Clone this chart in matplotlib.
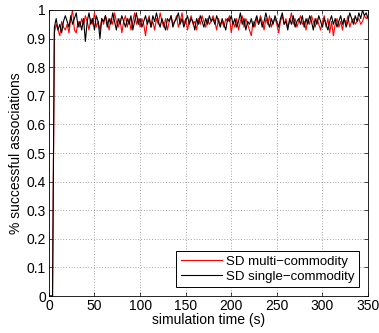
import numpy as np
import matplotlib
matplotlib.use('Agg')
import matplotlib.pyplot as plt

plt.rcParams['font.family'] = ['Liberation Sans', 'DejaVu Sans']

# sample time (s), one sample every 2 s
sim_time = np.arange(0, 351, 2)

multi_commodity = [
    0, 0, 0, 0.92, 0.95, 0.93, 0.91, 0.96, 0.94, 0.93,
    0.95, 0.92, 0.97, 1.00, 0.93, 0.92, 0.96, 0.94, 0.97, 0.95,
    0.98, 0.96, 0.93, 0.97, 0.95, 0.99, 0.94, 0.96, 0.93, 0.97,
    0.95, 0.98, 0.96, 0.93, 0.97, 0.95, 0.99, 0.96, 0.94, 0.97,
    0.92, 0.96, 0.98, 0.94, 0.97, 0.93, 0.96, 0.99, 0.95, 0.97,
    0.94, 0.97, 0.95, 0.91, 0.96, 0.98, 0.94, 0.96, 0.93, 0.97,
    0.95, 0.99, 0.96, 0.94, 0.97, 0.93, 0.96, 0.98, 0.95, 0.96,
    0.98, 0.94, 0.96, 0.99, 0.95, 0.97, 0.93, 0.96, 0.98, 0.95,
    0.96, 0.93, 0.97, 0.95, 0.98, 0.96, 0.94, 0.97, 0.95, 0.96,
    0.98, 0.96, 0.93, 0.97, 0.95, 0.96, 0.94, 0.97, 0.96, 0.98,
    0.92, 0.96, 0.94, 0.97, 0.93, 0.96, 0.98, 0.94, 0.97, 0.95,
    0.93, 0.91, 0.96, 0.94, 0.97, 0.95, 0.98, 0.96, 0.93, 0.97,
    0.95, 0.98, 0.94, 0.96, 0.97, 0.95, 0.92, 0.96, 0.98, 0.95,
    0.97, 0.94, 0.96, 0.99, 0.95, 0.97, 0.94, 0.96, 0.98, 0.95,
    0.96, 0.93, 0.97, 0.95, 0.98, 0.96, 0.94, 0.97, 0.95, 0.93,
    0.96, 0.98, 0.94, 0.97, 0.92, 0.96, 0.91, 0.95, 0.97, 0.94,
    0.96, 0.93, 0.97, 0.95, 0.98, 0.94, 0.96, 0.97, 0.95, 0.96,
    0.97, 0.95, 0.96, 0.98, 0.97, 0.98,
]

single_commodity = [
    0, 0, 0, 0.94, 0.97, 0.93, 0.95, 0.92, 0.96, 0.98,
    0.96, 0.94, 0.98, 0.95, 0.97, 0.99, 0.94, 0.96, 0.93, 0.97,
    0.89, 0.96, 0.99, 0.95, 0.97, 0.93, 0.98, 0.96, 0.90, 0.97,
    0.96, 0.98, 0.94, 0.97, 0.95, 0.99, 0.96, 0.93, 0.97, 0.95,
    0.98, 0.96, 0.94, 0.97, 0.95, 0.98, 0.93, 0.96, 0.99, 0.95,
    0.97, 0.94, 0.96, 0.98, 0.95, 0.97, 0.94, 0.98, 0.96, 0.99,
    0.96, 0.94, 0.97, 0.95, 0.93, 0.97, 0.96, 0.98, 0.94, 0.96,
    0.97, 0.99, 0.95, 0.97, 0.94, 0.96, 0.98, 0.95, 0.97, 0.96,
    0.93, 0.97, 0.95, 0.98, 0.96, 0.94, 0.97, 0.95, 0.98, 0.96,
    0.97, 0.95, 0.98, 0.96, 0.94, 0.97, 0.95, 0.93, 0.97, 0.96,
    0.98, 0.95, 0.97, 0.94, 0.96, 0.99, 0.95, 0.97, 0.93, 0.96,
    0.95, 0.97, 0.94, 0.96, 0.98, 0.95, 0.97, 0.94, 0.96, 0.99,
    0.96, 0.94, 0.97, 0.95, 0.98, 0.96, 0.94, 0.97, 0.99, 0.95,
    0.96, 0.93, 0.97, 0.95, 0.98, 0.94, 0.96, 0.97, 0.95, 0.98,
    0.94, 0.97, 0.95, 0.98, 0.96, 0.93, 0.97, 0.95, 0.98, 0.96,
    0.94, 0.97, 0.95, 0.93, 0.96, 0.98, 0.95, 0.97, 0.94, 0.96,
    0.98, 0.95, 0.97, 0.94, 0.96, 0.99, 0.97, 0.95, 0.98, 0.96,
    0.99, 0.97, 1.00, 0.98, 0.99, 0.97,
]

x_ticks = [0, 50, 100, 150, 200, 250, 300, 350]
y_ticks = [0, 0.1, 0.2, 0.3, 0.4, 0.5, 0.6, 0.7, 0.8, 0.9, 1]
y_tick_labels = ['0', '0.1', '0.2', '0.3', '0.4', '0.5', '0.6', '0.7', '0.8', '0.9', '1']

fig = plt.figure(figsize=(3.79, 3.33), dpi=100)
ax = fig.add_axes([0.129, 0.111, 0.842, 0.859])

ax.plot(sim_time, multi_commodity, color='#ff0000', lw=0.8, label='SD multi\u2212commodity')
ax.plot(sim_time, single_commodity, color='black', lw=0.8, label='SD single\u2212commodity')

ax.set_xlim(0, 350)
ax.set_ylim(0, 1)
ax.set_xticks(x_ticks)
ax.set_yticks(y_ticks)
ax.set_yticklabels(y_tick_labels)
ax.tick_params(direction='in', top=True, right=True, length=3, width=0.5, labelsize=10, pad=2)
for s in ax.spines.values():
    s.set_linewidth(0.6)

ax.grid(True, linestyle=(0, (1, 3)), color='#555555', lw=0.5)

ax.set_xlabel('simulation time (s)', fontsize=10, labelpad=0)
ax.set_ylabel('% successful associations', fontsize=10, labelpad=3)

leg = ax.legend(loc='lower right', fontsize=9.5, fancybox=False, framealpha=1,
                edgecolor='black', borderpad=0.35, handlelength=3.1, handletextpad=0.35,
                labelspacing=0.2, borderaxespad=0.65)
leg.get_frame().set_linewidth(0.7)

fig.savefig('out.png', dpi=100)
